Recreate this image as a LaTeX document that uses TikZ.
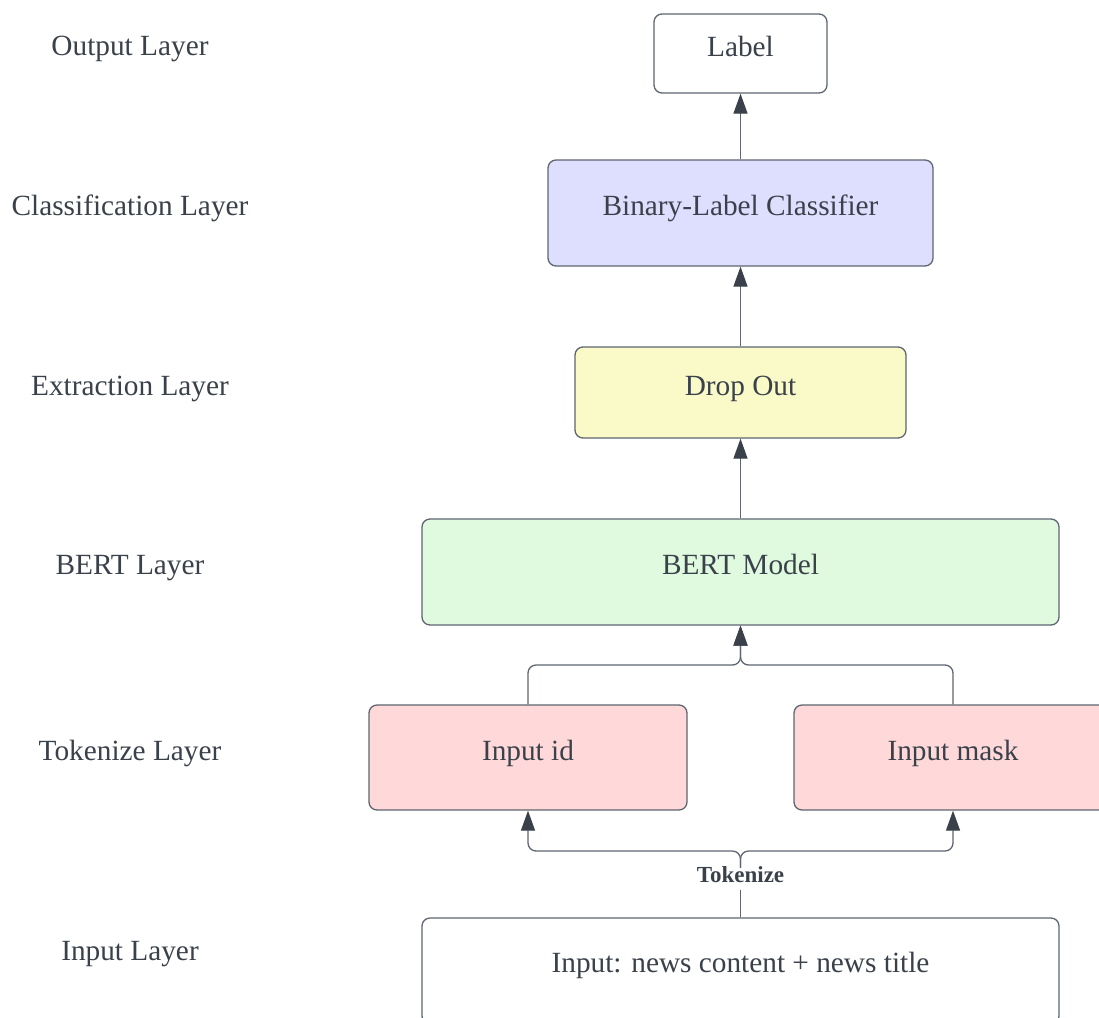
\documentclass[tikz,border=0pt]{standalone}
\usepackage{fontspec}
\setmainfont{Liberation Serif}
\usetikzlibrary{arrows.meta}

\definecolor{ink}{HTML}{3A414A}
\definecolor{edge}{HTML}{5E6570}
\definecolor{clsfill}{HTML}{DEDEFF}
\definecolor{dropfill}{HTML}{FAFAC8}
\definecolor{bertfill}{HTML}{E0FAE0}
\definecolor{tokfill}{HTML}{FFD9D9}

\tikzset{
  box/.style={draw=edge, line width=1.3pt, rounded corners=8pt, text=ink,
    font=\fontsize{29.3}{35}\selectfont, text height=0.77em, text depth=0.23em,
    inner sep=0pt},
  layername/.style={text=ink, font=\fontsize{29.3}{35}\selectfont,
    text height=0.77em, text depth=0.23em, inner sep=0pt},
  link/.style={draw=edge, line width=1.3pt, rounded corners=8pt,
    -{Triangle[length=20pt,width=14pt,fill=ink,color=ink]}},
  plain/.style={draw=edge, line width=1.3pt, rounded corners=8pt}
}

\begin{document}
\begin{tikzpicture}[x=1pt,y=-1pt]
\useasboundingbox (0,0) rectangle (1099,1017);
\clip (0,0) rectangle (1099,1017);
\fill[white] (0,0) rectangle (1099,1017);

% layer names
\node[layername] (lout) at (130,53) {Output Layer};
\node[layername] (lcls) at (130,213) {Classification Layer};
\node[layername] (lext) at (130,393) {Extraction Layer};
\node[layername] (lbrt) at (130,572) {BERT Layer};
\node[layername] (ltok) at (130,758) {Tokenize Layer};
\node[layername] (linp) at (130,958) {Input Layer};

% boxes
\node[box, fill=white, minimum width=173pt, minimum height=79pt] (label) at (740.5,53.5) {Label};
\node[box, fill=clsfill, minimum width=385pt, minimum height=106pt] (cls) at (740.5,213) {Binary-Label Classifier};
\node[box, fill=dropfill, minimum width=331pt, minimum height=91pt] (drop) at (740.5,392.5) {Drop Out};
\node[box, fill=bertfill, minimum width=637pt, minimum height=106pt] (bert) at (740.5,572) {BERT Model};
\node[box, fill=tokfill, minimum width=318pt, minimum height=105pt] (iid) at (528,757.5) {Input id};
\node[box, fill=tokfill, minimum width=318pt, minimum height=105pt] (imask) at (953,757.5) {Input mask};
\node[box, fill=white, minimum width=637pt, minimum height=106pt, text height=0.6em, text depth=0.4em] (inp) at (740.5,971) {Input: news content + news title};

% edge label
\node[text=ink, font=\fontsize{23}{27}\bfseries\selectfont, text height=0.7em,
  text depth=0pt, inner xsep=2pt, inner ysep=7.5pt] (tok) at (740.5,879) {Tokenize};

% vertical chain
\draw[link] (cls.north) -- (label.south);
\draw[link] (drop.north) -- (cls.south);
\draw[link] (bert.north) -- (drop.south);

% merge into BERT
\draw[link] (iid.north) -- (528,665) -- (740.5,665) -- (bert.south);
\draw[link] (imask.north) -- (953,665) -- (740.5,665) -- (bert.south);

% split from input
\draw[plain] (inp.north) -- (tok.south);
\draw[link] (tok.north) -- (740.5,851) -- (528,851) -- (iid.south);
\draw[link] (tok.north) -- (740.5,851) -- (953,851) -- (imask.south);
\end{tikzpicture}
\end{document}
